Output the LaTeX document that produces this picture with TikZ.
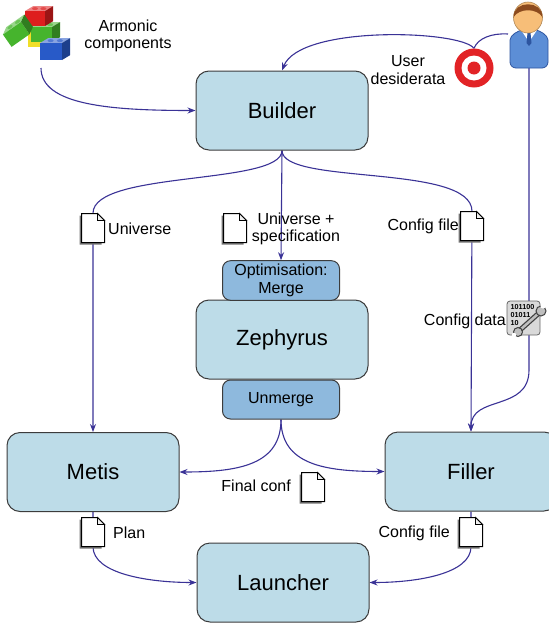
\documentclass[tikz,border=0pt]{standalone}
\usepackage{fontspec}
\setmainfont{Liberation Sans}
\usetikzlibrary{arrows.meta,backgrounds}

\definecolor{boxblue}{RGB}{189,220,232}
\definecolor{phaseblue}{RGB}{142,185,221}
\definecolor{boxline}{RGB}{60,60,60}
\definecolor{flowcol}{RGB}{58,50,150}
\definecolor{targetred}{RGB}{226,35,38}
\definecolor{legored}{RGB}{222,30,30}
\definecolor{legogreen}{RGB}{70,180,45}
\definecolor{legoyellow}{RGB}{240,222,40}
\definecolor{legoblue}{RGB}{40,90,200}
\definecolor{userblue}{RGB}{92,142,214}
\definecolor{userdark}{RGB}{45,85,160}
\definecolor{skin}{RGB}{247,190,120}
\definecolor{hair}{RGB}{140,75,30}

% one lego brick: x, y, width, height, depth, colour
\newcommand{\legobrick}[6]{%
  \fill[#6!55!white] (#1,#2) -- ++(#5,-0.6*#5) -- ++(#3,0) -- ++(-#5,0.6*#5) -- cycle;
  \fill[#6] (#1,#2) rectangle ++(#3,#4);
  \fill[#6!70!black] (#1+#3,#2) -- ++(#5,-0.6*#5) -- ++(0,#4) -- ++(-#5,0.6*#5) -- cycle;
  \fill[#6!80!white] (#1+0.3*#3+0.5*#5,#2-0.3*#5) ellipse (3 and 1.5);
  \fill[#6!80!white] (#1+0.72*#3+0.5*#5,#2-0.3*#5) ellipse (3 and 1.5);
}

\tikzset{
  stage/.style={rectangle, rounded corners=13pt, draw=boxline, line width=1pt,
    fill=boxblue, minimum width=172pt, minimum height=79pt,
    font=\fontsize{22}{26}\selectfont},
  phase/.style={rectangle, rounded corners=8pt, draw=boxline, line width=1pt,
    fill=phaseblue, minimum width=117pt, minimum height=39pt, align=center,
    font=\fontsize{16}{18}\selectfont},
  lbl/.style={inner sep=0pt, align=center, font=\fontsize{16}{17.5}\selectfont},
  flow/.style={draw=flowcol, line width=1.1pt, ->},
  flowline/.style={draw=flowcol, line width=1.1pt},
  doc/.pic={
    \fill[black!55] (-13.5,-12.5) -- (1.5,-12.5) -- (8.5,-5.5) -- (8.5,16.5) -- (-13.5,16.5) -- cycle;
    \draw[line width=1pt, fill=white] (-11.5,-14.5) -- (4.5,-14.5) -- (11.5,-7.5)
      -- (11.5,14.5) -- (-11.5,14.5) -- cycle;
    \draw[line width=0.8pt, fill=black!6] (4.5,-14.5) -- (4.5,-7.5) -- (11.5,-7.5) -- cycle;
    \node[inner sep=0pt, minimum width=23pt, minimum height=29pt] (-box) {};
  }
}

\begin{document}
\begin{tikzpicture}[x=1pt,y=-1pt,>={Stealth[length=8pt,width=6pt]}]
\useasboundingbox (0,0) rectangle (549,624);

% tool stages
\node[stage] (builder) at (282,110.5) {Builder};
\node[stage] (zephyrus) at (282,339.5) {Zephyrus};
\node[phase] (merge) at (281,280.5) {Optimisation:\\Merge};
\node[phase] (unmerge) at (281,399.5) {Unmerge};
\node[stage] (metis) at (93,472) {Metis};
\node[stage] (filler) at (471,471.5) {Filler};
\node[stage] (launcher) at (283,582.5) {Launcher};

% lego bricks
\legobrick{28}{31}{14}{16}{6}{legoyellow}
\legobrick{31}{27}{21}{15}{8}{legogreen}
\legobrick{25}{11}{20}{15}{8}{legored}
\begin{scope}[rotate around={35:(16,34)}]
  \legobrick{5}{27}{22}{15}{7}{legogreen}
\end{scope}
\legobrick{40}{43}{22}{17}{8}{legoblue}
\coordinate (armtail) at (41,68);
\node[lbl] (armlbl) at (128,36) {Armonic\\components};

% user
\fill[userblue, draw=userdark, line width=0.8pt, rounded corners=6pt]
  (510,68) -- (510,46) .. controls (510,35) and (519,30) .. (529,30)
  .. controls (539,30) and (548,35) .. (548,46) -- (548,68) -- cycle;
\fill[white] (521,30) -- (529,42) -- (537,30) -- cycle;
\fill[userdark] (527.5,33) -- (530.5,33) -- (531.5,43) -- (529,46) -- (526.5,43) -- cycle;
\fill[skin, draw=skin!70!black, line width=0.6pt] (528,17.5) ellipse (14.5 and 15.5);
\fill[hair] (513.7,17) .. controls (513,0) and (543,0) .. (542.3,17)
  .. controls (537,8) and (519,8) .. cycle;
\coordinate (userneck) at (508,34);
\coordinate (userfoot) at (529,68);

% desiderata target
\node[circle, fill=targetred, minimum size=39pt, inner sep=0pt] (target) at (474,68) {};
\fill[white] (target) circle (12.5);
\fill[targetred] (target) circle (6.5);
\node[lbl] (userlbl) at (408,70) {User\\desiderata};

% config data icon
\draw[fill=black!15, draw=black!60, rounded corners=3pt, line width=0.8pt] (507,301) rectangle (540,335);
\node[anchor=north west, inner sep=0pt, align=left,
  font=\fontsize{7.2}{8}\selectfont\bfseries] (bits) at (510.5,304) {101100\\01011\\10};
\draw[black!75, line width=5pt, line cap=round] (520,330) -- (539,313);
\draw[black!25, line width=2.5pt, line cap=round] (520,330) -- (539,313);
\draw[black!75, fill=black!25, line width=1pt] (541,311) circle (5);
\fill[white] (543,306) circle (2.5);
\draw[black!75, fill=black!25, line width=1pt] (518,332) circle (4.5);
\fill[white] (514,335) circle (2.2);
\node[lbl, anchor=east] (cfgdata) at (506,321) {Config data};

% files
\pic (udoc) at (93,228) {doc};
\pic (sdoc) at (235,228) {doc};
\pic (cdoc) at (472,226) {doc};
\pic (fdoc) at (313,487) {doc};
\pic (pdoc) at (93,532) {doc};
\pic (ldoc) at (471,532) {doc};
\node[lbl, anchor=west] (unilbl) at (108,229) {Universe};
\node[lbl] (speclbl) at (296,229) {Universe +\\specification};
\node[lbl, anchor=east] (cfglbl) at (459,226) {Config file};
\node[lbl, anchor=east] (finlbl) at (291,486) {Final conf};
\node[lbl, anchor=west] (planlbl) at (113,533) {Plan};
\node[lbl, anchor=east] (cfg2lbl) at (450,533) {Config file};

% connectors
\begin{pgfonlayer}{background}
  \draw[flow] (armtail) .. controls (41,105) and (110,110.5) .. (builder.west);
  \draw[flowline] (userneck) .. controls (492,33) and (478,38) .. (target.north);
  \draw[flow] (target.north) .. controls (460,30) and (300,25) .. (builder.north);
  \draw[flow] (builder.south) .. controls +(0,35) and +(0,-43) .. (udoc-box.north) -- (metis.north);
  \draw[flow] (builder.south) -- (merge.north);
  \draw[flow] (builder.south) .. controls +(0,35) and +(0,-48) .. (cdoc-box.north) -- (filler.north);
  \draw[flow] (userfoot) -- ++(0,302) .. controls +(0,42) and +(0,-37) .. (filler.north);
  \draw[flow] (unmerge.south) .. controls +(0,45) and +(60,0) .. (metis.east);
  \draw[flow] (unmerge.south) .. controls +(0,45) and +(-60,0) .. (filler.west);
  \draw[flow] (metis.south) -- (pdoc-box.south) .. controls +(0,27) and +(-48,0) .. (launcher.west);
  \draw[flow] (filler.south) -- (ldoc-box.south) .. controls +(0,27) and +(48,0) .. (launcher.east);
\end{pgfonlayer}
\end{tikzpicture}
\end{document}
